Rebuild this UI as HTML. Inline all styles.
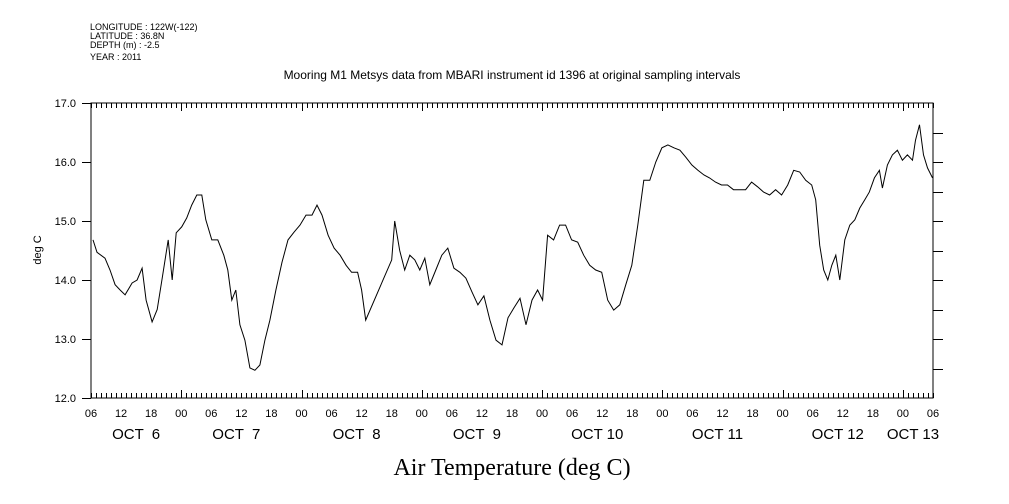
<!DOCTYPE html>
<html><head><meta charset="utf-8"><style>
body{margin:0;background:#fff;}
svg{display:block;font-family:"Liberation Sans",sans-serif;}
</style></head><body>
<svg id="chart" width="1009" height="504" viewBox="0 0 1009 504" xmlns="http://www.w3.org/2000/svg">
<g font-size="9" fill="#000">
<text x="90" y="30">LONGITUDE : 122W(-122)</text>
<text x="90" y="39">LATITUDE : 36.8N</text>
<text x="90" y="48">DEPTH (m) : -2.5</text>
<text x="90" y="60">YEAR : 2011</text>
</g>
<text x="512" y="79" text-anchor="middle" font-size="12">Mooring M1 Metsys data from MBARI instrument id 1396 at original sampling intervals</text>
<text x="512" y="475" text-anchor="middle" font-size="24" font-family="Liberation Serif, serif">Air Temperature (deg C)</text>
<text transform="translate(41,250) rotate(-90)" text-anchor="middle" font-size="11">deg C</text>
<g id="axes"></g>
<g id="series"></g>
</svg>
<script>
const hours=[0.4,1.2,2.8,3.8,4.8,5.8,6.8,8.2,9.2,10.2,11.0,12.2,13.2,14.2,15.4,16.2,17.0,18.1,19.1,20.1,21.1,22.1,22.9,24.1,25.3,26.5,27.3,28.1,28.9,29.7,30.7,31.7,32.7,33.7,34.7,35.7,36.9,38.1,39.3,40.5,41.7,42.9,44.1,45.1,46.1,47.3,48.5,49.7,50.9,52.0,53.2,54.0,54.8,60.0,60.6,61.6,62.6,63.6,64.6,65.6,66.6,67.6,68.8,70.0,71.2,72.4,73.6,74.8,76.0,77.2,78.4,79.6,80.8,82.0,83.2,84.4,85.6,86.8,88.0,89.1,90.1,91.1,92.3,93.5,94.7,95.9,97.1,98.3,99.5,100.7,101.9,103.1,104.3,105.5,106.7,107.9,109.1,110.3,111.5,112.7,113.9,115.1,116.3,117.5,118.7,119.9,121.1,122.3,123.4,124.6,125.8,127.0,128.2,129.4,130.6,131.8,133.0,134.2,135.4,136.6,137.8,139.0,140.2,141.4,142.6,143.8,144.6,145.4,146.2,147.0,147.8,148.6,149.4,150.4,151.4,152.4,153.4,154.4,155.3,156.3,157.3,157.9,158.9,159.9,160.9,161.9,162.9,163.9,164.5,165.3,166.1,166.9,167.9];
const temps=[14.68,14.47,14.37,14.17,13.92,13.83,13.75,13.95,14.0,14.2,13.66,13.29,13.5,14.03,14.68,14.0,14.8,14.9,15.05,15.27,15.44,15.44,15.02,14.68,14.68,14.42,14.17,13.66,13.83,13.24,12.98,12.51,12.47,12.56,12.98,13.32,13.83,14.3,14.68,14.81,14.93,15.1,15.1,15.27,15.1,14.76,14.54,14.42,14.25,14.13,14.13,13.83,13.32,14.34,15.0,14.5,14.17,14.42,14.34,14.17,14.37,13.92,14.17,14.42,14.54,14.2,14.13,14.03,13.8,13.58,13.73,13.32,12.98,12.9,13.36,13.53,13.69,13.24,13.66,13.83,13.66,14.76,14.68,14.93,14.93,14.68,14.64,14.42,14.25,14.17,14.13,13.66,13.49,13.58,13.92,14.25,14.93,15.69,15.69,16.0,16.24,16.29,16.24,16.2,16.08,15.95,15.86,15.78,15.73,15.66,15.61,15.61,15.53,15.53,15.53,15.66,15.58,15.49,15.44,15.53,15.44,15.61,15.86,15.83,15.69,15.61,15.36,14.59,14.17,14.0,14.25,14.42,14.0,14.68,14.93,15.02,15.22,15.36,15.49,15.73,15.86,15.56,15.95,16.12,16.2,16.03,16.12,16.03,16.37,16.63,16.12,15.9,15.73];
const yTicks=[12.0,13.0,14.0,15.0,16.0,17.0];
const hourLabels=["06","12","18","00","06","12","18","00","06","12","18","00","06","12","18","00","06","12","18","00","06","12","18","00","06","12","18","00","06"];
const dayLabels=["OCT  6","OCT  7","OCT  8","OCT  9","OCT 10","OCT 11","OCT 12","OCT 13"];
const dayLabelHours=[9,29,53,77,101,125,149,164];
const X0=91,X1=933,Y0=398,Y1=103,HMAX=168,TMIN=12,TMAX=17;
const xs=h=>X0+(X1-X0)*h/HMAX;
const ys=t=>Y0-(Y0-Y1)*(t-TMIN)/(TMAX-TMIN);
const NS="http://www.w3.org/2000/svg";
const axes=document.getElementById('axes'),ser=document.getElementById('series');
function mk(tag,parent,attrs){const e=document.createElementNS(NS,tag);for(const k in attrs)e.setAttribute(k,attrs[k]);parent.appendChild(e);return e;}
const frame=mk('rect',axes,{x:X0,y:Y1,width:X1-X0,height:Y0-Y1,fill:'none',stroke:'#000','stroke-width':1});


let d='';
for(let h=0;h<=HMAX;h++){const x=Math.round(xs(h))+0.5;const major=((h+6)%24===0);const L=major?8:5;d+=`M${x} ${Y1}v${L}M${x} ${Y0}v${-L}`;}
for(const t of yTicks){const y=Math.round(ys(t))+0.5;d+=`M${X0-9} ${y}h9`;}
for(let t=12.5;t<17;t+=0.5){const y=Math.round(ys(t))+0.5;d+=`M${X1} ${y}h10`;}
const tk=mk('path',axes,{d:d,stroke:'#000','stroke-width':1,fill:'none'});


yTicks.forEach(t=>{const e=mk('text',axes,{x:X0-15,y:ys(t)+4,'text-anchor':'end','font-size':11});e.textContent=t.toFixed(1);

});
hourLabels.forEach((s,i)=>{const e=mk('text',axes,{x:xs(i*6),y:417,'text-anchor':'middle','font-size':11});e.textContent=s;

});
dayLabels.forEach((s,i)=>{const e=mk('text',axes,{x:xs(dayLabelHours[i]),y:439,'text-anchor':'middle','font-size':15,'xml:space':'preserve'});e.style.whiteSpace='pre';e.textContent=s;

});
const line=mk('polyline',ser,{points:hours.map((h,i)=>xs(h).toFixed(1)+','+ys(temps[i]).toFixed(1)).join(' '),fill:'none',stroke:'#000','stroke-width':1});


</script>
</body></html>
